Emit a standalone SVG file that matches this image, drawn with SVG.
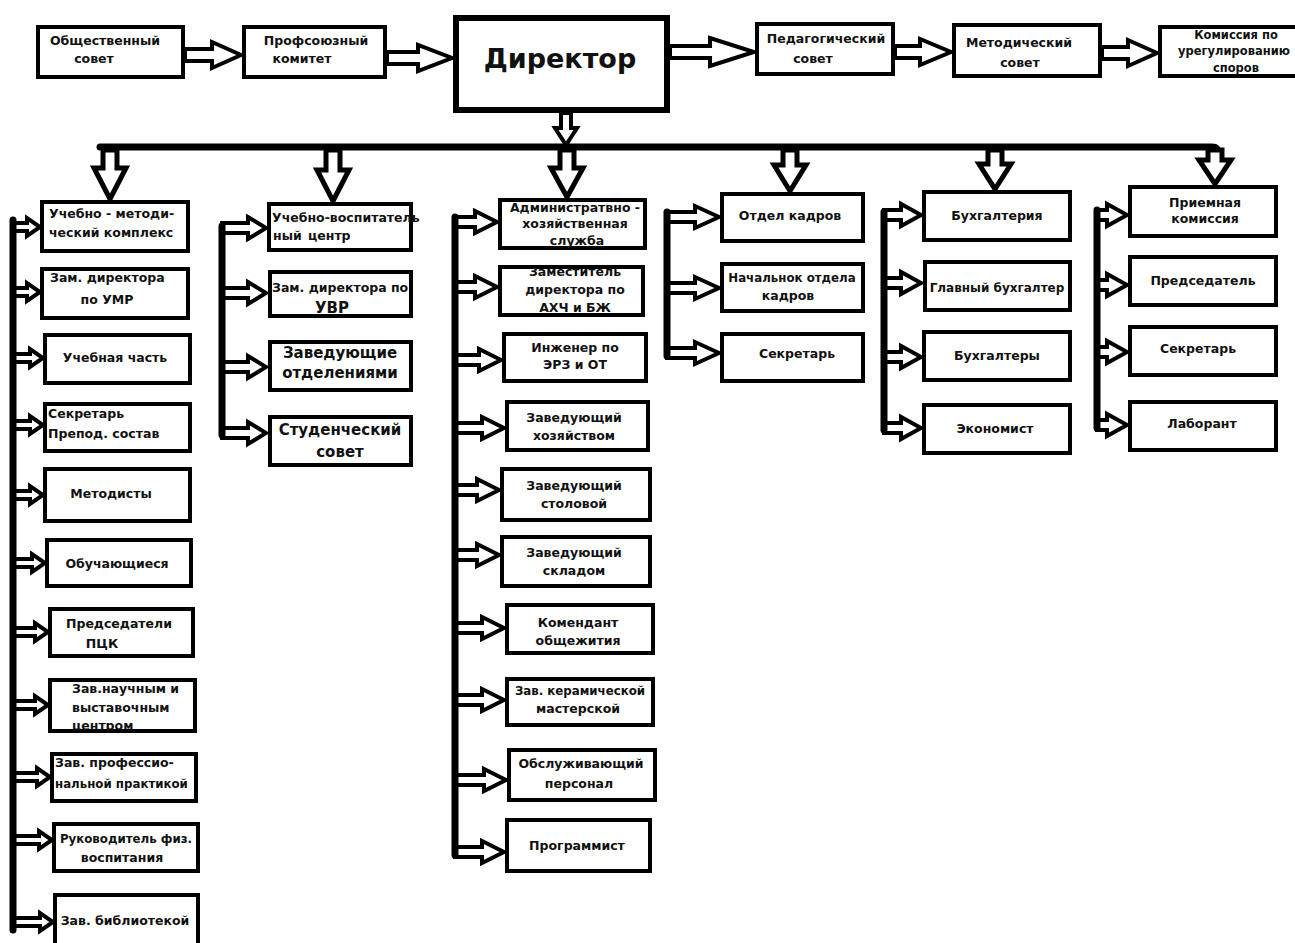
<svg xmlns="http://www.w3.org/2000/svg" width="1295" height="943" viewBox="0 0 1295 943">
<style>
.box{fill:#fff;stroke:#000;stroke-width:4}
.dir{stroke-width:6}
.t{font-family:"DejaVu Sans","Liberation Sans",sans-serif;font-weight:bold;font-size:12.5px;fill:#111}
.m{text-anchor:middle}
.big{font-size:15px}
.sm{font-size:11.5px}
.n12{font-size:11.8px}
.arr{fill:#fff;stroke:#000;stroke-width:4;stroke-linejoin:miter}
.darr{fill:#fff;stroke:#000;stroke-width:5;stroke-linejoin:miter}
.line{fill:none;stroke:#000;stroke-width:7;stroke-linecap:round;stroke-linejoin:round}
</style>
<rect width="1295" height="943" fill="#fff"/>
<g id="connectors">
<path class="arr" d="M185 49 H212 V42 L241 55 L212 68 V61 H185 Z"/>
<path class="arr" d="M387 52 H418 V45 L452 58 L418 71 V64 H387 Z"/>
<path class="arr" d="M670 46 H710 V38 L754 52 L710 66 V58 H670 Z"/>
<path class="arr" d="M895 46 H920 V39 L951 52 L920 65 V58 H895 Z"/>
<path class="arr" d="M1102 47 H1128 V40 L1157 53 L1128 66 V59 H1102 Z"/>
<path class="arr" d="M561 113 V128 H555 L566 145 L577 128 H571 V113 Z"/>
<path class="line" d="M100 147 H1212 Q1218 147 1218 153"/>
<path class="darr" d="M103 150 V168 H94 L110 199 L126 168 H117 V150 Z"/>
<path class="darr" d="M326 150 V170 H317 L333 201 L349 170 H340 V150 Z"/>
<path class="darr" d="M560 150 V168 H551 L567 197 L583 168 H574 V150 Z"/>
<path class="darr" d="M783 150 V165 H774 L790 191 L806 165 H797 V150 Z"/>
<path class="darr" d="M988 150 V164 H979 L995 189 L1011 164 H1002 V150 Z"/>
<path class="darr" d="M1208 150 V160 H1199 L1215 184 L1231 160 H1222 V150 Z"/>
<!-- column 1 -->
<path class="arr" d="M13 223 H27 V218 L40 227 L27 236 V231 H13 Z"/>
<path class="arr" d="M13 288 H27 V283 L40 292 L27 301 V296 H13 Z"/>
<path class="arr" d="M13 354 H30 V349 L43 358 L30 367 V362 H13 Z"/>
<path class="arr" d="M13 421 H30 V416 L43 425 L30 434 V429 H13 Z"/>
<path class="arr" d="M13 491 H30 V486 L43 495 L30 504 V499 H13 Z"/>
<path class="arr" d="M13 559 H32 V554 L45 563 L32 572 V567 H13 Z"/>
<path class="arr" d="M13 628 H35 V623 L48 632 L35 641 V636 H13 Z"/>
<path class="arr" d="M13 701 H35 V696 L48 705 L35 714 V709 H13 Z"/>
<path class="arr" d="M13 773 H37 V768 L50 777 L37 786 V781 H13 Z"/>
<path class="arr" d="M13 836 H39 V831 L52 840 L39 849 V844 H13 Z"/>
<path class="arr" d="M13 918 H40 V913 L53 922 L40 931 V926 H13 Z"/>
<path class="line" d="M13 220 V930"/>
<!-- column 2 -->
<path class="arr" d="M222 223 H248 V217 L266 228 L248 239 V233 H222 Z"/>
<path class="arr" d="M222 288 H248 V282 L266 293 L248 304 V298 H222 Z"/>
<path class="arr" d="M222 362 H248 V356 L266 367 L248 378 V372 H222 Z"/>
<path class="arr" d="M222 428 H248 V422 L266 433 L248 444 V438 H222 Z"/>
<path class="line" d="M222 226 V435"/>
<!-- column 3 -->
<path class="arr" d="M455 217 H475 V211 L497 222 L475 233 V227 H455 Z"/>
<path class="arr" d="M455 282 H475 V276 L497 287 L475 298 V292 H455 Z"/>
<path class="arr" d="M455 355 H479 V349 L501 360 L479 371 V365 H455 Z"/>
<path class="arr" d="M455 423 H482 V417 L504 428 L482 439 V433 H455 Z"/>
<path class="arr" d="M455 485 H477 V479 L499 490 L477 501 V495 H455 Z"/>
<path class="arr" d="M455 550 H477 V544 L499 555 L477 566 V560 H455 Z"/>
<path class="arr" d="M455 623 H482 V617 L504 628 L482 639 V633 H455 Z"/>
<path class="arr" d="M455 695 H482 V689 L504 700 L482 711 V705 H455 Z"/>
<path class="arr" d="M455 775 H484 V769 L506 780 L484 791 V785 H455 Z"/>
<path class="arr" d="M455 847 H482 V841 L504 852 L482 863 V857 H455 Z"/>
<path class="line" d="M455 217 V855"/>
<!-- column 4 -->
<path class="arr" d="M667 212 H695 V206 L719 217 L695 228 V222 H667 Z"/>
<path class="arr" d="M667 283 H695 V277 L719 288 L695 299 V293 H667 Z"/>
<path class="arr" d="M667 348 H695 V342 L719 353 L695 364 V358 H667 Z"/>
<path class="line" d="M667 212 V356"/>
<!-- column 5 -->
<path class="arr" d="M884 210 H901 V204 L921 215 L901 226 V220 H884 Z"/>
<path class="arr" d="M884 278 H901 V272 L921 283 L901 294 V288 H884 Z"/>
<path class="arr" d="M884 352 H901 V346 L921 357 L901 368 V362 H884 Z"/>
<path class="arr" d="M884 423 H901 V417 L921 428 L901 439 V433 H884 Z"/>
<path class="line" d="M884 212 V430"/>
<!-- column 6 -->
<path class="arr" d="M1097 210 H1107 V204 L1127 215 L1107 226 V220 H1097 Z"/>
<path class="arr" d="M1097 280 H1107 V274 L1127 285 L1107 296 V290 H1097 Z"/>
<path class="arr" d="M1097 347 H1107 V341 L1127 352 L1107 363 V357 H1097 Z"/>
<path class="arr" d="M1097 420 H1107 V414 L1127 425 L1107 436 V430 H1097 Z"/>
<path class="line" d="M1097 210 V428"/>
</g>

<g id="n-obsh"><rect class="box" x="38" y="27" width="145" height="50"/><text class="t m" x="105" y="45">Общественный</text><text class="t m" x="94" y="63">совет</text></g>
<g id="n-prof"><rect class="box" x="244" y="27" width="141" height="50"/><text class="t m" x="316" y="45">Профсоюзный</text><text class="t m" x="302" y="63">комитет</text></g>
<g id="n-dir"><rect class="box dir" x="456" y="18" width="211" height="92"/><text class="t m" x="560" y="68" style="font-size:27px">Директор</text></g>
<g id="n-ped"><rect class="box" x="757" y="24" width="136" height="50"/><text class="t m" x="826" y="43">Педагогический</text><text class="t m" x="813" y="63">совет</text></g>
<g id="n-met"><rect class="box" x="954" y="25" width="146" height="51"/><text class="t m" x="1019" y="47">Методический</text><text class="t m" x="1020" y="67">совет</text></g>
<g id="n-kom"><rect class="box" x="1160" y="27" width="150" height="49"/><text class="t m sm" x="1236" y="39">Комиссия по</text><text class="t m sm" x="1234" y="55">урегулированию</text><text class="t m sm" x="1236" y="72">споров</text></g>

<!-- column 1 -->
<g id="c1-1"><rect class="box" x="42" y="202" width="146" height="49"/><text class="t" x="49" y="218">Учебно - методи-</text><text class="t" x="49" y="237">ческий комплекс</text></g>
<g id="c1-2"><rect class="box" x="42" y="269" width="146" height="49"/><text class="t" x="50" y="282">Зам. директора</text><text class="t m" x="107" y="304">по УМР</text></g>
<g id="c1-3"><rect class="box" x="45" y="335" width="145" height="48"/><text class="t m" x="115" y="362">Учебная часть</text></g>
<g id="c1-4"><rect class="box" x="45" y="404" width="145" height="47"/><text class="t" x="48" y="418">Секретарь</text><text class="t" x="48" y="438">Препод. состав</text></g>
<g id="c1-5"><rect class="box" x="45" y="469" width="145" height="52"/><text class="t m" x="111" y="498">Методисты</text></g>
<g id="c1-6"><rect class="box" x="47" y="540" width="144" height="46"/><text class="t m" x="117" y="568">Обучающиеся</text></g>
<g id="c1-7"><rect class="box" x="50" y="609" width="143" height="47"/><text class="t m" x="119" y="628">Председатели</text><text class="t m" x="102" y="648">ПЦК</text></g>
<g id="c1-8"><rect class="box" x="50" y="680" width="145" height="51"/><text class="t" x="72" y="693">Зав.научным и</text><text class="t" x="72" y="712">выставочным</text><text class="t" x="72" y="730">центром</text></g>
<g id="c1-9"><rect class="box" x="52" y="754" width="144" height="47"/><text class="t" x="55" y="767">Зав. профессио-</text><text class="t n12" x="55" y="788">нальной практикой</text></g>
<g id="c1-10"><rect class="box" x="54" y="824" width="144" height="47"/><text class="t m n12" x="126" y="843">Руководитель физ.</text><text class="t m" x="122" y="862">воспитания</text></g>
<g id="c1-11"><rect class="box" x="55" y="895" width="143" height="60"/><text class="t m" x="125" y="925">Зав. библиотекой</text></g>

<!-- column 2 -->
<g id="c2-1"><rect class="box" x="269" y="204" width="142" height="46"/><text class="t" x="272" y="222">Учебно-воспитатель</text><text class="t"><tspan x="273" y="240">ный</tspan><tspan x="308" y="240">центр</tspan></text></g>
<g id="c2-2"><rect class="box" x="270" y="272" width="141" height="44"/><text class="t" x="272" y="292">Зам. директора по</text><text class="t m big" x="332" y="313">УВР</text></g>
<g id="c2-3"><rect class="box" x="270" y="342" width="141" height="48"/><text class="t m big" x="340" y="358">Заведующие</text><text class="t m big" x="340" y="378">отделениями</text></g>
<g id="c2-4"><rect class="box" x="270" y="417" width="141" height="48"/><text class="t m big" x="340" y="435">Студенческий</text><text class="t m big" x="340" y="457">совет</text></g>

<!-- column 3 -->
<g id="c3-1"><rect class="box" x="500" y="200" width="145" height="48"/><text class="t m" x="575" y="212">Администратвно -</text><text class="t m" x="575" y="228">хозяйственная</text><text class="t m" x="577" y="245">служба</text></g>
<g id="c3-2"><rect class="box" x="500" y="267" width="143" height="48"/><text class="t m" x="575" y="276">Заместитель</text><text class="t m" x="575" y="294">директора по</text><text class="t m" x="575" y="312">АХЧ и БЖ</text></g>
<g id="c3-3"><rect class="box" x="504" y="334" width="142" height="47"/><text class="t m" x="575" y="352">Инженер по</text><text class="t m" x="575" y="369">ЭРЗ и ОТ</text></g>
<g id="c3-4"><rect class="box" x="507" y="402" width="141" height="48"/><text class="t m" x="574" y="422">Заведующий</text><text class="t m" x="574" y="440">хозяйством</text></g>
<g id="c3-5"><rect class="box" x="502" y="469" width="148" height="51"/><text class="t m" x="574" y="490">Заведующий</text><text class="t m" x="574" y="508">столовой</text></g>
<g id="c3-6"><rect class="box" x="502" y="537" width="148" height="49"/><text class="t m" x="574" y="557">Заведующий</text><text class="t m" x="574" y="575">складом</text></g>
<g id="c3-7"><rect class="box" x="507" y="605" width="146" height="48"/><text class="t m" x="578" y="627">Комендант</text><text class="t m" x="578" y="645">общежития</text></g>
<g id="c3-8"><rect class="box" x="507" y="679" width="146" height="46"/><text class="t m n12" x="580" y="695">Зав. керамической</text><text class="t m" x="578" y="713">мастерской</text></g>
<g id="c3-9"><rect class="box" x="509" y="750" width="146" height="50"/><text class="t m" x="581" y="768">Обслуживающий</text><text class="t m" x="579" y="788">персонал</text></g>
<g id="c3-10"><rect class="box" x="507" y="820" width="143" height="51"/><text class="t m" x="577" y="850">Программист</text></g>

<!-- column 4 -->
<g id="c4-1"><rect class="box" x="722" y="194" width="141" height="47"/><text class="t m" x="790" y="220">Отдел кадров</text></g>
<g id="c4-2"><rect class="box" x="722" y="264" width="141" height="47"/><text class="t m n12" x="792" y="282">Начальнок отдела</text><text class="t m" x="788" y="300">кадров</text></g>
<g id="c4-3"><rect class="box" x="722" y="334" width="141" height="47"/><text class="t m" x="797" y="358">Секретарь</text></g>

<!-- column 5 -->
<g id="c5-1"><rect class="box" x="924" y="192" width="146" height="48"/><text class="t m" x="997" y="220">Бухгалтерия</text></g>
<g id="c5-2"><rect class="box" x="925" y="262" width="145" height="48"/><text class="t m" x="997" y="292" style="font-size:12px">Главный бухгалтер</text></g>
<g id="c5-3"><rect class="box" x="924" y="332" width="146" height="48"/><text class="t m" x="997" y="360">Бухгалтеры</text></g>
<g id="c5-4"><rect class="box" x="924" y="405" width="146" height="48"/><text class="t m" x="995" y="433">Экономист</text></g>

<!-- column 6 -->
<g id="c6-1"><rect class="box" x="1130" y="187" width="146" height="49"/><text class="t m" x="1205" y="207">Приемная</text><text class="t m" x="1205" y="223">комиссия</text></g>
<g id="c6-2"><rect class="box" x="1130" y="257" width="146" height="48"/><text class="t m" x="1203" y="285">Председатель</text></g>
<g id="c6-3"><rect class="box" x="1130" y="327" width="146" height="48"/><text class="t m" x="1198" y="353">Секретарь</text></g>
<g id="c6-4"><rect class="box" x="1130" y="402" width="146" height="48"/><text class="t m" x="1202" y="428">Лаборант</text></g>
</svg>
